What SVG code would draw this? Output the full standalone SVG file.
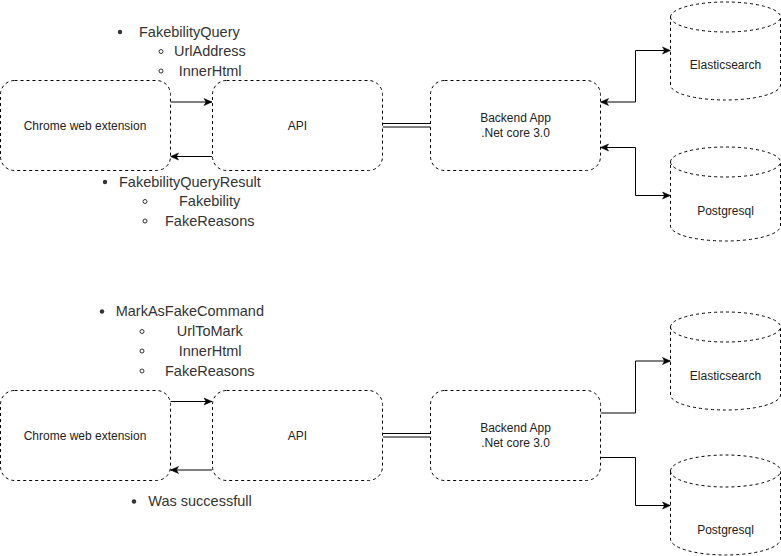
<svg xmlns="http://www.w3.org/2000/svg" width="781" height="556" viewBox="0 0 781 556">
<style>
.box{fill:#fff;stroke:#000;stroke-width:1;stroke-dasharray:3 3}
.cyl{fill:#fff;stroke:#000;stroke-width:1;stroke-dasharray:3 3}
.lbl{font-family:"Liberation Sans",Arial,sans-serif;font-size:12px;fill:#222;text-anchor:middle}
.lst{font-family:"Liberation Sans",Arial,sans-serif;font-size:14.5px;fill:#333}
.dot{fill:#333}
.hol{fill:none;stroke:#333;stroke-width:1}
.con{fill:none;stroke:#000;stroke-width:1}
.arr{marker-end:url(#ah)}
.both{marker-start:url(#ah);marker-end:url(#ah)}
</style>
<defs>
<marker id="ah" markerUnits="userSpaceOnUse" markerWidth="10" markerHeight="10" viewBox="0 0 10 10" refX="9" refY="5" orient="auto-start-reverse">
<path d="M1,1.5 L9,5 L1,8.5 L3,5 Z" fill="#000" stroke="#000" stroke-width="0.5"/>
</marker>
</defs>
<g id="connectors">
<path class="con arr" d="M170.5,102 H212"/>
<path class="con arr" d="M212,156.5 H170.5"/>
<path class="con" d="M383,123.5 H430.5"/>
<path class="con" d="M383,127 H430.5"/>
<path class="con both" d="M600.5,102 H635.5 V50.5 H670.5"/>
<path class="con both" d="M600.5,147.5 H635.5 V195.5 H670.5"/>
<path class="con arr" d="M170.5,401.5 H212"/>
<path class="con arr" d="M212,470 H170.5"/>
<path class="con" d="M383,433.5 H430.5"/>
<path class="con" d="M383,437 H430.5"/>
<path class="con arr" d="M600.5,413 H635.5 V361 H670.5"/>
<path class="con arr" d="M600.5,457.5 H635.5 V505.5 H670.5"/>
</g>
<g id="chrome1"><rect class="box" x="0.5" y="80.5" width="170" height="90" rx="14"/><text class="lbl" x="85" y="130">Chrome web extension</text></g>
<g id="api1"><rect class="box" x="212.5" y="80.5" width="170" height="90" rx="14"/><text class="lbl" x="297.5" y="130">API</text></g>
<g id="backend1"><rect class="box" x="430.5" y="80.5" width="170" height="90" rx="14"/><text class="lbl" x="515.5" y="122">Backend App</text><text class="lbl" x="515.5" y="137">.Net core 3.0</text></g>
<g id="es1"><path class="cyl" d="M670.5,17 A55,15 0 0 1 780.5,17 V85 A55,15 0 0 1 670.5,85 Z"/><path class="cyl" d="M670.5,17 A55,15 0 0 0 780.5,17"/><text class="lbl" x="725.5" y="69">Elasticsearch</text></g>
<g id="pg1"><path class="cyl" d="M670.5,162 A55,15 0 0 1 780.5,162 V226 A55,15 0 0 1 670.5,226 Z"/><path class="cyl" d="M670.5,162 A55,15 0 0 0 780.5,162"/><text class="lbl" x="725.5" y="215">Postgresql</text></g>
<g id="chrome2"><rect class="box" x="0.5" y="390.5" width="170" height="90" rx="14"/><text class="lbl" x="85" y="440">Chrome web extension</text></g>
<g id="api2"><rect class="box" x="212.5" y="390.5" width="170" height="90" rx="14"/><text class="lbl" x="297.5" y="440">API</text></g>
<g id="backend2"><rect class="box" x="430.5" y="390.5" width="170" height="90" rx="14"/><text class="lbl" x="515.5" y="432">Backend App</text><text class="lbl" x="515.5" y="447">.Net core 3.0</text></g>
<g id="es2"><path class="cyl" d="M670.5,327 A55,15 0 0 1 780.5,327 V395 A55,15 0 0 1 670.5,395 Z"/><path class="cyl" d="M670.5,327 A55,15 0 0 0 780.5,327"/><text class="lbl" x="725.5" y="380">Elasticsearch</text></g>
<g id="pg2"><path class="cyl" d="M670.5,471 A55,16 0 0 1 780.5,471 V539 A55,16 0 0 1 670.5,539 Z"/><path class="cyl" d="M670.5,471 A55,16 0 0 0 780.5,471"/><text class="lbl" x="725.5" y="534">Postgresql</text></g>
<g id="query-list">
<circle class="dot" cx="120" cy="32" r="2.2"/><text class="lst" x="139" y="36.5">FakebilityQuery</text>
<circle class="hol" cx="161" cy="51.5" r="2"/><text class="lst" x="174" y="56">UrlAddress</text>
<circle class="hol" cx="161" cy="71" r="2"/><text class="lst" x="178.7" y="76">InnerHtml</text>
</g>
<g id="result-list">
<circle class="dot" cx="105" cy="182" r="2.2"/><text class="lst" x="119" y="186.5">FakebilityQueryResult</text>
<circle class="hol" cx="145" cy="201.5" r="2"/><text class="lst" x="179" y="206">Fakebility</text>
<circle class="hol" cx="145" cy="221" r="2"/><text class="lst" x="165" y="226">FakeReasons</text>
</g>
<g id="command-list">
<circle class="dot" cx="102" cy="311.5" r="2.2"/><text class="lst" x="115.7" y="316">MarkAsFakeCommand</text>
<circle class="hol" cx="142" cy="331.5" r="2"/><text class="lst" x="176.7" y="336">UrlToMark</text>
<circle class="hol" cx="142" cy="351" r="2"/><text class="lst" x="178.7" y="356">InnerHtml</text>
<circle class="hol" cx="142" cy="371" r="2"/><text class="lst" x="165" y="376">FakeReasons</text>
</g>
<g id="success-list">
<circle class="dot" cx="134" cy="501.5" r="2.2"/><text class="lst" x="148.3" y="506">Was successfull</text>
</g>
</svg>
